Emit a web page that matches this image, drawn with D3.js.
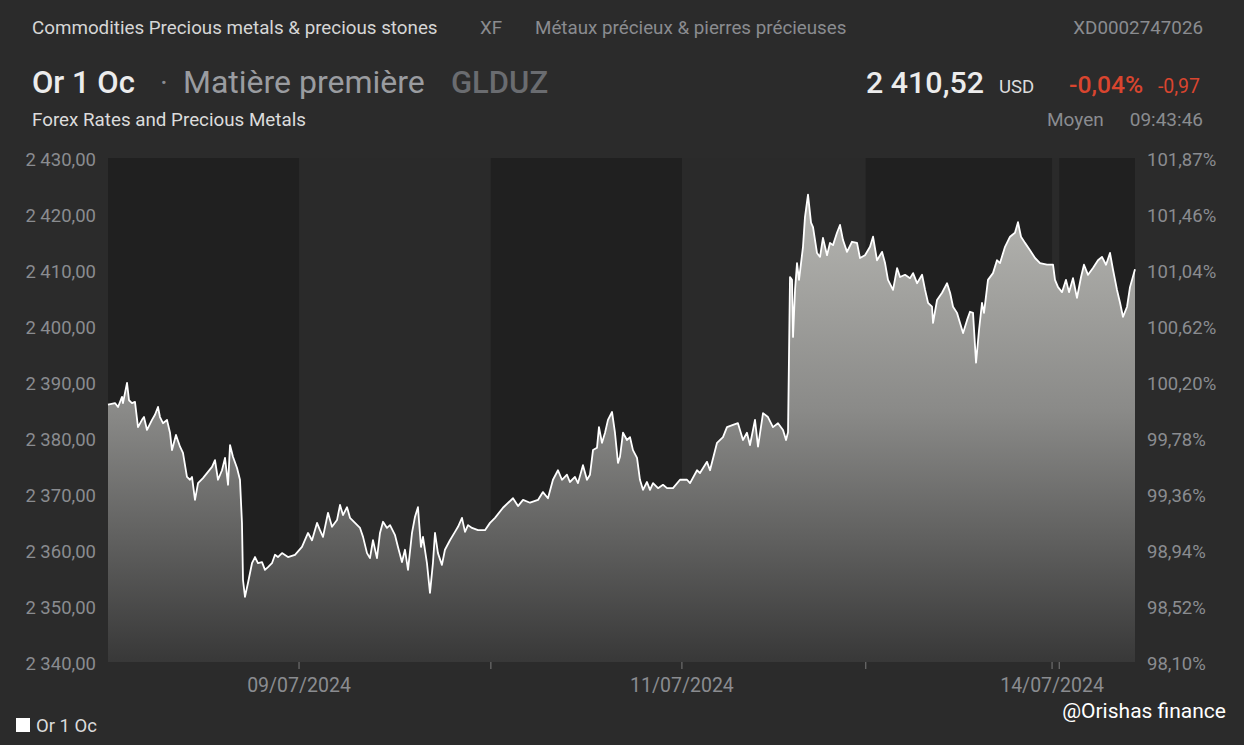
<!DOCTYPE html>
<html><head><meta charset="utf-8">
<script src="https://cdn.jsdelivr.net/npm/d3@7"></script>
<style>
html,body{margin:0;padding:0;background:#2b2b2b;}
svg{display:block;}
text{font-family:Roboto,"Noto Sans",sans-serif;}
</style></head>
<body>
<svg id="c" width="1244" height="745"></svg>
<script>
// ---- data ----
// time in hours from the start of the window, price in USD
const times = [0,0.88,1.26,1.76,1.88,2.39,2.64,3.01,3.39,3.77,4.27,4.52,4.90,5.53,5.90,6.28,6.53,6.91,7.41,7.79,8.04,8.54,9.05,9.42,9.92,10.30,10.55,10.93,11.31,11.93,12.56,13.07,13.44,13.82,14.32,14.70,15.08,15.33,15.70,16.21,16.58,16.83,16.96,17.21,17.59,18.09,18.47,18.84,19.35,19.72,20.10,20.60,20.98,21.35,21.86,22.61,23.49,
24.37,25.13,25.63,26.26,26.63,27.01,27.64,28.14,28.77,29.15,29.52,30.03,30.40,31.03,31.66,32.04,32.54,32.91,33.29,33.79,34.17,34.55,35.05,35.43,36.06,36.43,36.93,37.31,37.69,38.19,38.57,38.94,39.32,39.57,40.07,40.45,40.82,41.08,41.45,41.95,42.33,42.96,43.59,43.97,44.47,44.85,45.23,45.73,46.48,47.36,47.99,48.62,
49.62,50.88,51.51,52.14,53.02,54.02,54.64,55.27,55.90,56.53,57.03,57.66,58.03,58.66,59.04,59.67,60.17,60.55,60.93,61.43,61.68,62.06,62.44,62.81,63.32,63.69,64.07,64.32,64.70,65.20,65.58,65.95,66.46,66.83,67.21,67.71,68.09,68.47,69.10,69.72,70.23,70.98,71.86,
72.74,73.12,74.00,74.37,75.25,75.63,76.51,77.26,77.76,78.52,79.14,79.77,80.27,80.65,81.28,81.66,82.29,82.91,83.54,84.17,84.80,85.18,85.43,85.68,85.93,86.06,86.31,86.56,86.81,87.31,87.56,87.94,88.32,88.57,89.07,89.45,89.82,90.33,90.70,91.08,91.58,91.96,92.34,92.84,93.47,94.10,94.47,95.10,
95.73,96.11,96.61,97.24,97.62,97.99,98.62,99.13,99.50,100.13,100.76,101.14,101.64,102.27,102.65,103.02,103.52,103.65,104.15,104.78,105.41,105.79,106.16,106.66,107.04,107.42,107.92,108.29,108.67,109.05,109.42,109.80,110.05,110.55,111.18,111.68,112.06,112.69,113.32,113.94,114.32,114.70,115.20,115.83,116.46,117.09,117.96,118.72,
118.97,119.35,119.85,120.35,120.73,121.23,121.73,122.24,122.61,123.12,123.74,124.37,124.87,125.38,125.88,126.26,126.76,127.14,127.51,128.02,128.39,129.02];
const prices = [2386.3,2386.6,2385.9,2387.7,2386.6,2390.2,2387.1,2386.6,2386.8,2382.3,2383.6,2384.1,2381.8,2383.6,2384.5,2385.9,2384.1,2383.0,2383.6,2381.3,2378.2,2380.9,2378.8,2377.7,2373.4,2372.9,2373.4,2369.3,2372.3,2373.2,2374.3,2375.2,2376.4,2372.9,2374.6,2376.8,2372.0,2379.1,2377.0,2375.0,2372.9,2365.2,2355.0,2352.0,2354.5,2358.0,2359.1,2358.0,2358.2,2356.8,2357.3,2358.0,2359.5,2359.1,2359.8,2359.1,2359.5,
2360.9,2363.4,2362.1,2365.2,2363.9,2362.7,2367.0,2364.5,2365.7,2368.4,2366.6,2368.0,2366.1,2365.2,2364.3,2362.7,2359.8,2358.9,2362.1,2358.9,2363.4,2365.4,2364.3,2364.8,2363.0,2360.9,2358.2,2360.4,2356.8,2363.4,2366.3,2368.0,2360.9,2362.7,2358.0,2352.7,2358.0,2363.4,2359.8,2357.7,2360.4,2362.1,2363.6,2364.5,2366.1,2363.6,2364.8,2364.3,2363.9,2363.9,2365.2,2366.1,
2367.9,2369.6,2368.2,2369.3,2368.8,2369.3,2370.7,2369.6,2372.9,2374.6,2372.9,2373.8,2372.5,2373.4,2372.3,2375.5,2372.9,2373.8,2378.2,2378.6,2382.3,2379.5,2381.3,2383.6,2385.0,2381.3,2375.9,2377.0,2381.3,2380.0,2380.5,2378.2,2376.8,2372.9,2371.1,2372.5,2371.1,2372.3,2371.4,2372.0,2371.4,2371.4,2372.9,
2372.9,2372.3,2374.6,2374.1,2376.1,2374.6,2379.5,2380.5,2382.3,2382.7,2383.0,2380.0,2381.3,2379.1,2383.6,2378.8,2384.8,2384.1,2382.3,2383.0,2381.8,2380.0,2381.4,2409.1,2408.6,2398.4,2406.8,2411.6,2408.6,2414.5,2419.8,2423.8,2418.8,2418.0,2413.4,2412.7,2416.1,2413.0,2415.2,2414.8,2417.0,2418.4,2415.7,2413.6,2415.4,2415.2,2412.5,2413.0,
2414.5,2416.3,2412.1,2413.6,2411.6,2408.6,2406.8,2410.7,2409.1,2409.5,2408.9,2409.8,2408.0,2409.5,2406.8,2404.5,2403.8,2400.9,2405.0,2406.3,2408.0,2406.3,2403.8,2402.7,2400.9,2399.1,2401.4,2402.9,2402.7,2393.8,2399.6,2404.5,2402.7,2408.6,2409.8,2412.1,2411.6,2414.5,2416.3,2417.0,2418.9,2416.3,2415.2,2413.9,2412.5,2411.6,2411.3,2411.3,
2408.6,2407.3,2406.4,2408.6,2406.4,2408.9,2405.4,2409.1,2411.3,2409.5,2410.7,2412.1,2412.7,2411.3,2413.4,2410.4,2406.8,2404.5,2402.0,2403.8,2407.3,2410.5];
// session boundaries (hours) and shading (dark = 1)
const sessionBounds = [0,24.0,48.1,72.1,95.2,118.6,119.5,129.02];
const sessionDark   = [1,0,1,0,1,0,1];
const xTickTimes  = [24.0,48.1,72.1,95.2,118.6,119.5];
const xTickLabels = ["09/07/2024","","11/07/2024","","14/07/2024",""];
const leftTicks  = [2430,2420,2410,2400,2390,2380,2370,2360,2350,2340];
const rightTickLabels = ["101,87%","101,46%","101,04%","100,62%","100,20%","99,78%","99,36%","98,94%","98,52%","98,10%"];
const header = {
  category:"Commodities Precious metals & precious stones", exch:"XF",
  categoryFr:"Métaux précieux & pierres précieuses", isin:"XD0002747026",
  name:"Or 1 Oc", type:"Matière première", code:"GLDUZ",
  sub:"Forex Rates and Precious Metals",
  last:"2 410,52", cur:"USD", pct:"-0,04%", chg:"-0,97", kind:"Moyen", time:"09:43:46"
};
const legendLabel = "Or 1 Oc";
const credit = "@Orishas finance";

// ---- chart ----
const svg = d3.select("#c");
const W=1244,H=745;
const L=108,R=1135,T=160,B=664;
const x = d3.scaleLinear().domain([0,129.02]).range([L,R]);
const y = d3.scaleLinear().domain([2340,2430]).range([B,T]);
const fmt = v => d3.format(",.2f")(v).replace(/,/g," ").replace(".",",");

svg.append("rect").attr("width",W).attr("height",H).attr("fill","#2b2b2b");

// session bands
const bandTop = y(2430)-2, bandBot = y(2340)-2;
svg.append("g").selectAll("rect").data(d3.range(sessionDark.length)).join("rect")
  .attr("x",i=>x(sessionBounds[i])).attr("width",i=>x(sessionBounds[i+1])-x(sessionBounds[i]))
  .attr("y",bandTop).attr("height",bandBot-bandTop)
  .attr("fill",i=>sessionDark[i]?"#202020":"#2a2a2a");

// gradient area
const defs = svg.append("defs");
const gr = defs.append("linearGradient").attr("id","ag").attr("gradientUnits","userSpaceOnUse")
  .attr("x1",0).attr("x2",0).attr("y1",y(2422)).attr("y2",bandBot);
gr.append("stop").attr("offset",0).attr("stop-color","#b4b4b0");
gr.append("stop").attr("offset",0.45).attr("stop-color","#8a8a88");
gr.append("stop").attr("offset",1).attr("stop-color","#383838");
const pts = times.map((t,i)=>[t,prices[i]]);
svg.append("path").datum(pts)
  .attr("d",d3.area().x(d=>x(d[0])).y0(bandBot).y1(d=>y(d[1])))
  .attr("fill","url(#ag)");
svg.append("path").datum(pts)
  .attr("d",d3.line().x(d=>x(d[0])).y(d=>y(d[1])))
  .attr("fill","none").attr("stroke","#ffffff").attr("stroke-width",1.8).attr("stroke-linejoin","round");

// left axis
const axisCol = "#8a8c90";
svg.append("g").selectAll("text").data(leftTicks).join("text")
  .attr("x",96).attr("y",d=>y(d)).attr("dy","0.35em").attr("text-anchor","end")
  .attr("font-size",18.5).attr("fill",axisCol).text(fmt);
// right axis
svg.append("g").selectAll("text").data(leftTicks).join("text")
  .attr("x",1147).attr("y",d=>y(d)).attr("dy","0.35em")
  .attr("font-size",18.5).attr("fill",axisCol).text((d,i)=>rightTickLabels[i]);

// bottom axis
const xa = svg.append("g");
xa.selectAll("line").data(xTickTimes).join("line")
  .attr("x1",d=>x(d)).attr("x2",d=>x(d)).attr("y1",bandBot).attr("y2",bandBot+7)
  .attr("stroke","#7a7a7a").attr("stroke-width",1);
xa.selectAll("text").data(xTickTimes).join("text")
  .attr("x",d=>x(d)).attr("y",692).attr("text-anchor","middle")
  .attr("font-size",19.5).attr("fill",axisCol).text((d,i)=>xTickLabels[i]);

// header
function txt(s,xp,yp,size,col,opts={}){
  const t=svg.append("text").attr("x",xp).attr("y",yp).attr("font-size",size).attr("fill",col).text(s);
  if(opts.anchor) t.attr("text-anchor",opts.anchor);
  if(opts.weight) t.attr("font-weight",opts.weight);
  if(opts.family) t.attr("font-family",opts.family);
  return t;
}
txt(header.category,32,34,18.8,"#d6d6d6");
txt(header.exch,480,34,18.8,"#8a8c90");
txt(header.categoryFr,535,34,18.8,"#8a8c90");
txt(header.isin,1203,34,18.8,"#8a8c90",{anchor:"end"});
txt(header.name,32,93,31,"#ececec",{weight:500});
txt("·",160,93,30,"#8a8c90");
txt(header.type,183,93,32,"#9a9ca0");
txt(header.code,451,93,31,"#6a6c70",{weight:500});
txt(header.last,866,93,30.4,"#ececec",{weight:500});
txt(header.cur,999,93,18.6,"#dcdcdc");
txt(header.pct,1069,93,24.7,"#d9452f",{weight:500});
txt(header.chg,1200,93,19.5,"#d9452f",{anchor:"end"});
txt(header.sub,32,126,18.8,"#dcdcdc");
txt(header.kind,1047,126,19,"#8a8c90");
txt(header.time,1203,126,19,"#8a8c90",{anchor:"end"});

// legend
svg.append("rect").attr("x",16).attr("y",718).attr("width",14).attr("height",14).attr("fill","#ffffff");
txt(legendLabel,36,732,18.5,"#dcdcdc");
// credit
txt(credit,1226,718,21,"#ffffff",{anchor:"end",family:"Lato, 'Open Sans', sans-serif"});
</script>
</body></html>
